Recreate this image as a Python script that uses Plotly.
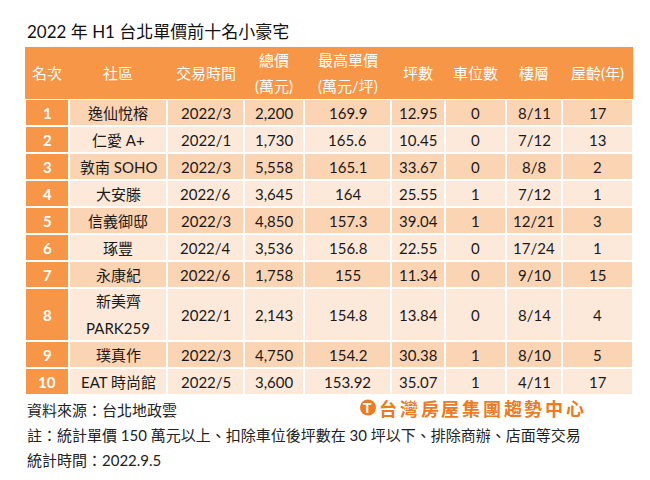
import plotly.graph_objects as go

# ---------------- data ----------------
headers = ["名次", "社區", "交易時間", "總價<br>(萬元)", "最高單價<br>(萬元/坪)",
           "坪數", "車位數", "樓層", "屋齡(年)"]
rank = [1, 2, 3, 4, 5, 6, 7, 8, 9, 10]
community = ["逸仙悅榕", "仁愛 A+", "敦南 SOHO", "大安滕", "信義御邸", "琢豐",
             "永康紀", "新美齊<br>PARK259", "璞真作", "EAT 時尚館"]
trade_date = ["2022/3", "2022/1", "2022/3", "2022/6", "2022/3", "2022/4",
              "2022/6", "2022/1", "2022/3", "2022/5"]
total_price = [2200, 1730, 5558, 3645, 4850, 3536, 1758, 2143, 4750, 3600]
unit_price = [169.9, 165.6, 165.1, 164, 157.3, 156.8, 155, 154.8, 154.2, 153.92]
ping = [12.95, 10.45, 33.67, 25.55, 39.04, 22.55, 11.34, 13.84, 30.38, 35.07]
parking = [0, 0, 0, 1, 1, 0, 0, 0, 1, 1]
floor = ["8/11", "7/12", "8/8", "7/12", "12/21", "17/24", "9/10", "8/14", "8/10", "4/11"]
age = [17, 13, 2, 1, 3, 1, 15, 4, 5, 17]

title = "2022 年 H1 台北單價前十名小豪宅"
source = "資料來源：台北地政雲"
note = "註：統計單價 150 萬元以上、扣除車位後坪數在 30 坪以下、排除商辦、店面等交易"
stat_time = "統計時間：2022.9.5"
logo = "台灣房屋集團趨勢中心"

# ---------------- style ----------------
OFF = 8                      # default page margin of the html body
W, H = 650 - OFF, 480 - OFF  # figure fits the window exactly
ORANGE = "#F79646"
ODD = "#FBD4B4"
EVEN = "#FDE9D9"
TXT = "#1a1a1a"
FONT = "Lato, 'Noto Sans CJK TC', sans-serif"
CJK = "'Noto Sans CJK TC', sans-serif"
col_widths = [44, 98, 77, 60, 87, 54, 61, 56, 71]
header_h = 52
row_heights = [27, 27, 27, 27, 27, 27, 27, 53, 27, 27]
table_left, table_top = 25, 47

total_w = sum(col_widths)
total_h = header_h + sum(row_heights)

xe = [0]
for w in col_widths:
    xe.append(xe[-1] + w)
ye = [header_h]
for h in row_heights:
    ye.append(ye[-1] + h)

rows = []
for i in range(len(rank)):
    rows.append([str(rank[i]), community[i], trade_date[i], f"{total_price[i]:,}",
                 f"{unit_price[i]:g}", f"{ping[i]:.2f}", str(parking[i]),
                 floor[i], str(age[i])])

z = [[0] + [1 if i % 2 == 0 else 2] * (len(col_widths) - 1) for i in range(len(rows))]

fig = go.Figure()
fig.add_trace(go.Heatmap(z=[[0]], x=[0, total_w], y=[0, header_h],
                         colorscale=[[0, ORANGE], [1, ORANGE]], showscale=False,
                         hoverinfo="skip"))
fig.add_trace(go.Heatmap(z=z, x=xe, y=ye, xgap=2, ygap=2, zmin=0, zmax=2,
                         colorscale=[[0, ORANGE], [0.5, ODD], [1, EVEN]],
                         showscale=False, hoverinfo="skip"))

annotations = []


def cell_text(text, ci, top, height, color, bold=False, size=15):
    lines = text.split("<br>")
    n = len(lines)
    xc = (xe[ci] + xe[ci + 1]) / 2
    for k, line in enumerate(lines):
        yc = top + (k + 0.5) * height / n
        annotations.append(dict(
            x=xc, y=yc, xref="x", yref="y", text=f"<b>{line}</b>" if bold else line,
            showarrow=False, xanchor="center", yanchor="middle",
            font=dict(family=FONT, size=size, color=color)))


for ci, htxt in enumerate(headers):
    cell_text(htxt, ci, 0, header_h, "white")

for ri, row in enumerate(rows):
    for ci, val in enumerate(row):
        if ci == 0:
            cell_text(val, ci, ye[ri], row_heights[ri], "white", bold=True)
        else:
            cell_text(val, ci, ye[ri], row_heights[ri], TXT)


def px(x):
    return (x - OFF) / W


def py(y):
    return 1 - (y - OFF) / H


annotations.append(dict(x=px(25), y=py(32), xref="paper", yref="paper", text=title,
                        showarrow=False, xanchor="left", yanchor="middle",
                        font=dict(family=FONT, size=17, color="#111111")))
for txt, yy in [(source, 410), (note, 435), (stat_time, 460)]:
    annotations.append(dict(x=px(25), y=py(yy), xref="paper", yref="paper", text=txt,
                            showarrow=False, xanchor="left", yanchor="middle",
                            font=dict(family=FONT, size=15, color="#222222")))

# logo
LOGO_C = "#EE7A22"
pitch = 20.7
for k, ch in enumerate(logo):
    annotations.append(dict(x=px(378 + pitch * (k + 0.5)), y=py(408), xref="paper",
                            yref="paper", text=f"<b>{ch}</b>", showarrow=False,
                            xanchor="center", yanchor="middle",
                            font=dict(family=CJK, size=18, color=LOGO_C)))
annotations.append(dict(x=px(368), y=py(407.5), xref="paper", yref="paper",
                        text="<b>T</b>", showarrow=False, xanchor="center",
                        yanchor="middle",
                        font=dict(family="Liberation Sans, sans-serif", size=14,
                                  color="white")))

shapes = [dict(type="circle", xref="paper", yref="paper", x0=px(360), x1=px(376),
               y0=py(415.5), y1=py(399.5), fillcolor=LOGO_C, line=dict(width=0),
               layer="below")]

fig.update_layout(
    width=W, height=H, margin=dict(l=0, r=0, t=0, b=0),
    paper_bgcolor="white", plot_bgcolor="white",
    xaxis=dict(domain=[px(table_left), px(table_left + total_w)], range=[0, total_w],
               visible=False, fixedrange=True),
    yaxis=dict(domain=[py(table_top + total_h), py(table_top)], range=[total_h, 0],
               visible=False, fixedrange=True),
    annotations=annotations, shapes=shapes, showlegend=False,
)

fig.write_html("out.html")
